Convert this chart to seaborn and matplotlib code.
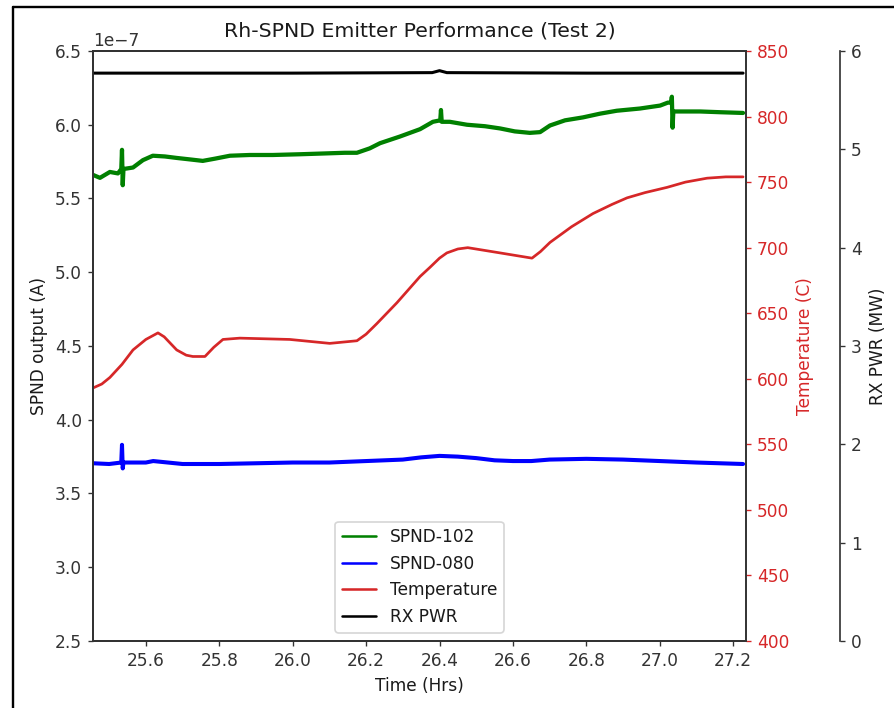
import numpy as np
import matplotlib
matplotlib.use("Agg")
import matplotlib.pyplot as plt
from matplotlib.lines import Line2D
from matplotlib.ticker import MultipleLocator
import seaborn as sns

# ---- SPND-102 emitter current (units of 1e-7 A) ----
t_spnd102 = [25.456, 25.475, 25.502, 25.524, 25.533, 25.535, 25.537, 25.539,
             25.565, 25.592, 25.619, 25.652, 25.684, 25.720, 25.755, 25.788,
             25.829, 25.883, 25.946, 26.020, 26.082, 26.142, 26.175, 26.210,
             26.238, 26.292, 26.347, 26.382, 26.402, 26.404, 26.406, 26.428,
             26.475, 26.524, 26.565, 26.605, 26.646, 26.674, 26.701, 26.742,
             26.791, 26.837, 26.883, 26.946, 27.001, 27.022, 27.031, 27.033,
             27.035, 27.037, 27.063, 27.110, 27.164, 27.227]
spnd102 = [5.66, 5.64, 5.68, 5.67, 5.70, 5.83, 5.59, 5.70,
           5.71, 5.76, 5.79, 5.785, 5.775, 5.765, 5.755, 5.77,
           5.79, 5.795, 5.795, 5.80, 5.805, 5.81, 5.81, 5.84,
           5.875, 5.92, 5.97, 6.02, 6.03, 6.10, 6.02, 6.02,
           6.00, 5.99, 5.975, 5.955, 5.945, 5.95, 5.995, 6.03,
           6.05, 6.075, 6.095, 6.11, 6.13, 6.15, 6.15, 6.19,
           5.98, 6.09, 6.09, 6.09, 6.085, 6.08]

# ---- SPND-080 emitter current (units of 1e-7 A) ----
t_spnd080 = [25.456, 25.500, 25.533, 25.535, 25.537, 25.539, 25.600, 25.620,
             25.700, 25.800, 25.900, 26.000, 26.100, 26.200, 26.300, 26.350,
             26.400, 26.450, 26.500, 26.550, 26.600, 26.650, 26.700, 26.800,
             26.900, 27.000, 27.100, 27.227]
spnd080 = [3.705, 3.70, 3.71, 3.83, 3.67, 3.71, 3.71, 3.72,
           3.70, 3.70, 3.705, 3.71, 3.71, 3.72, 3.73, 3.745,
           3.755, 3.75, 3.74, 3.725, 3.72, 3.72, 3.73, 3.735,
           3.73, 3.72, 3.71, 3.70]

# ---- Emitter temperature (C) ----
t_temp = [25.456, 25.480, 25.502, 25.535, 25.565, 25.600, 25.633, 25.650,
          25.684, 25.710, 25.728, 25.761, 25.785, 25.810, 25.856, 25.992,
          26.101, 26.175, 26.200, 26.229, 26.284, 26.347, 26.374, 26.400,
          26.420, 26.450, 26.477, 26.565, 26.652, 26.675, 26.701, 26.760,
          26.818, 26.870, 26.911, 26.960, 27.020, 27.070, 27.129, 27.180,
          27.227]
temperature = [593, 596, 601, 611, 622, 630, 635, 632,
               622, 618, 617, 617, 624, 630, 631, 630,
               627, 629, 634, 642, 658, 678, 685, 692,
               696, 699, 700, 696, 692, 697, 704, 716,
               726, 733, 738, 742, 746, 750, 753, 754,
               754]

# ---- Reactor power (MW) ----
t_power = [25.456, 25.700, 26.000, 26.380, 26.400, 26.420, 26.800, 27.227]
rx_power = [5.775, 5.775, 5.775, 5.78, 5.80, 5.78, 5.775, 5.775]

sns.set_style("ticks", {"axes.edgecolor": "0.2", "text.color": "0.1",
                        "xtick.color": "0.2", "ytick.color": "0.2",
                        "axes.labelcolor": "0.1"})
plt.rcParams['font.family'] = ['DejaVu Sans']
plt.rcParams['xtick.major.size'] = 3
plt.rcParams['ytick.major.size'] = 3
plt.rcParams['axes.linewidth'] = 1.0

DPI = 122
W, H = 894, 708
fig = plt.figure(figsize=(W / DPI, H / DPI), dpi=DPI)
ax = fig.add_axes([93 / W, 1 - 641 / H, 653 / W, 590 / H])
ax_t = ax.twinx()
ax_p = ax.twinx()
ax_p.spines['right'].set_position(('axes', 1.144))

scale = 1e-7
sns.lineplot(x=t_spnd102, y=np.array(spnd102) * scale, ax=ax, color='green',
             lw=2.5, estimator=None, sort=False, legend=False)
sns.lineplot(x=t_spnd080, y=np.array(spnd080) * scale, ax=ax, color='blue',
             lw=2.4, estimator=None, sort=False, legend=False)
sns.lineplot(x=t_temp, y=temperature, ax=ax_t, color='tab:red',
             lw=1.6, estimator=None, sort=False, legend=False)
sns.lineplot(x=t_power, y=rx_power, ax=ax_p, color='black',
             lw=1.8, estimator=None, sort=False, legend=False)

ax.set_xlim(25.456, 27.235)
ax.set_ylim(2.5e-7, 6.5e-7)
ax_t.set_ylim(400, 850)
ax_p.set_ylim(0, 6)
ax.xaxis.set_major_locator(MultipleLocator(0.2))
ax.yaxis.set_major_locator(MultipleLocator(0.5e-7))
ax_t.yaxis.set_major_locator(MultipleLocator(50))
ax_p.yaxis.set_major_locator(MultipleLocator(1))

ax.set_title("Rh-SPND Emitter Performance (Test 2)", pad=8.5)
ax.set_xlabel("Time (Hrs)")
ax.set_ylabel("SPND output (A)")
ax_t.set_ylabel("Temperature (C)", color='tab:red')
ax_t.tick_params(axis='y', colors='tab:red')
ax_p.set_ylabel("RX PWR (MW)")

handles = [Line2D([], [], color='green', lw=1.5),
           Line2D([], [], color='blue', lw=1.5),
           Line2D([], [], color='tab:red', lw=1.5),
           Line2D([], [], color='black', lw=1.5)]
labels = ["SPND-102", "SPND-080", "Temperature", "RX PWR"]
ax_p.legend(handles, labels, loc='lower center', bbox_to_anchor=(0.5, 0.0),
            bbox_transform=ax.transAxes, frameon=True)

# frame lines along the left and top edges
fig.add_artist(Line2D([12.5 / W, 12.5 / W], [0, 1 - 6.5 / H],
                      transform=fig.transFigure, color='black', lw=1.4))
fig.add_artist(Line2D([12.5 / W, 1], [1 - 6.5 / H, 1 - 6.5 / H],
                      transform=fig.transFigure, color='black', lw=1.4))

fig.savefig("out.png", dpi=DPI)
